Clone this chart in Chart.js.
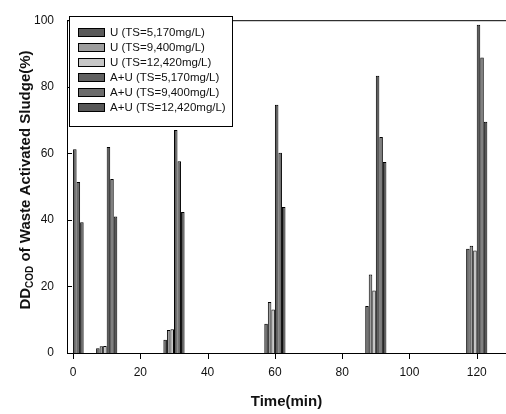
<!DOCTYPE html>
<html>
<head>
<meta charset="utf-8">
<script src="https://cdn.jsdelivr.net/npm/chart.js@4"></script>
<style>
    html, body { margin: 0; padding: 0; background: #fff; }
    #grafico { width: 506px; height: 414px; }
</style>
</head>
<body>
<div id="grafico"><canvas id="tela"></canvas></div>
<script>

// Tempos de medicao (min)
const tempos = [0, 10, 30, 60, 90, 120];

// Valores (%)
const u_5170 = [0, 1.4, 4.0, 8.8, 14.1, 31.3];
const u_9400 = [0, 2.0, 6.9, 15.3, 23.6, 32.2];
const u_12420 = [0, 2.1, 7.1, 13.1, 18.8, 30.8];
const au_5170 = [61.2, 61.9, 67.0, 74.6, 83.3, 98.6];
const au_9400 = [51.4, 52.3, 57.6, 60.2, 64.9, 88.8];
const au_12420 = [39.3, 41.0, 42.4, 43.9, 57.4, 69.5];

const rotulos = [
    'U (TS=5,170mg/L)',
    'U (TS=9,400mg/L)',
    'U (TS=12,420mg/L)',
    'A+U (TS=5,170mg/L)',
    'A+U (TS=9,400mg/L)',
    'A+U (TS=12,420mg/L)'
];
const cores = ['#5a5a5a', '#9e9e9e', '#c6c6c6', '#606060', '#6c6c6c', '#575757'];

const ticks_x = [0, 20, 40, 60, 80, 100, 120];
const ticks_y = [0, 20, 40, 60, 80, 100];

const series = [u_5170, u_9400, u_12420, au_5170, au_9400, au_12420];

const fonte = "'Liberation Sans', Arial, sans-serif";


// Moldura, marcas dos eixos, titulos e legenda desenhados por cima
const plugin_desenho = {
    id: 'desenho',
    afterDraw(chart) {
        const ctx = chart.ctx;
        const area = chart.chartArea;
        const sx = chart.scales.x;
        const sy = chart.scales.y;

        ctx.save();
        ctx.strokeStyle = '#000';
        ctx.lineWidth = 1;

        // moldura (topo, esquerda, base)
        ctx.beginPath();
        ctx.moveTo(area.right, area.top + 0.5);
        ctx.lineTo(area.left + 0.5, area.top + 0.5);
        ctx.lineTo(area.left + 0.5, area.bottom + 0.5);
        ctx.lineTo(area.right, area.bottom + 0.5);
        ctx.stroke();

        // marcas do eixo y (para dentro)
        ctx.beginPath();
        ticks_y.forEach(v => {
            const py = Math.round(sy.getPixelForValue(v)) + 0.5;
            ctx.moveTo(area.left, py);
            ctx.lineTo(area.left + 5, py);
        });
        // marcas do eixo x (para fora)
        ticks_x.forEach(v => {
            const px = Math.round(sx.getPixelForValue(v)) + 0.5;
            ctx.moveTo(px, area.bottom);
            ctx.lineTo(px, area.bottom + 6);
        });
        ctx.stroke();

        // legenda
        const lx = 69, ly = 16, lw = 163, lh = 110;
        ctx.fillStyle = '#fff';
        ctx.fillRect(lx, ly, lw, lh);
        ctx.strokeRect(lx + 0.5, ly + 0.5, lw, lh);
        ctx.font = '11.5px ' + fonte;
        ctx.textBaseline = 'middle';
        ctx.textAlign = 'left';
        chart.data.datasets.forEach((ds, i) => {
            const cy = 32 + i * 15;
            ctx.fillStyle = ds.backgroundColor;
            ctx.fillRect(78, cy - 4, 26, 8);
            ctx.strokeRect(78.5, cy - 3.5, 26, 8);
            ctx.fillStyle = '#111';
            ctx.fillText(ds.label, 110, cy + 1);
        });

        // titulo do eixo x
        ctx.font = 'bold 15px ' + fonte;
        ctx.textAlign = 'center';
        ctx.fillStyle = '#111';
        ctx.fillText('Time(min)', (area.left + area.right) / 2, 402);

        // titulo do eixo y com subscrito
        ctx.translate(26, 180);
        ctx.rotate(-Math.PI / 2);
        const f_normal = 'bold 15px ' + fonte;
        const f_sub = 'bold 10px ' + fonte;
        const partes = [['DD', f_normal, 0], ['COD', f_sub, 4], [' of Waste Activated Sludge(%)', f_normal, 0]];
        let total = 0;
        partes.forEach(p => { ctx.font = p[1]; total += ctx.measureText(p[0]).width; });
        let x = -total / 2;
        ctx.textAlign = 'left';
        partes.forEach(p => {
            ctx.font = p[1];
            ctx.fillText(p[0], x, p[2]);
            x += ctx.measureText(p[0]).width;
        });
        ctx.restore();
    }
};


const conjuntos = series.map((valores, i) => ({
    label: rotulos[i],
    data: valores.map((v, j) => ({ x: tempos[j], y: v })),
    backgroundColor: cores[i],
    borderColor: '#000',
    borderWidth: 1,
    borderSkipped: 'bottom',
    categoryPercentage: 0.63,
    barPercentage: 1.0
}));

new Chart(document.getElementById('tela'), {
    type: 'bar',
    data: { datasets: conjuntos },
    options: {
        responsive: true,
        maintainAspectRatio: false,
        animation: false,
        layout: { padding: { top: 12, right: 0, left: 0, bottom: 0 } },
        plugins: {
            legend: { display: false },
            tooltip: { enabled: false }
        },
        scales: {
            x: {
                type: 'linear',
                min: -1.8,
                max: 128.7,
                offset: false,
                grid: { display: false, drawTicks: false },
                border: { display: false },
                afterBuildTicks: (escala) => { escala.ticks = ticks_x.map(v => ({ value: v })); },
                afterFit: (escala) => { escala.height = 61; },
                ticks: {
                    padding: 12,
                    color: '#111',
                    font: { family: fonte, size: 12 }
                }
            },
            y: {
                min: 0,
                max: 100,
                grid: { display: false, drawTicks: false },
                border: { display: false },
                afterBuildTicks: (escala) => { escala.ticks = ticks_y.map(v => ({ value: v })); },
                afterFit: (escala) => { escala.width = 67; },
                ticks: {
                    padding: 13,
                    color: '#111',
                    font: { family: fonte, size: 12 }
                }
            }
        }
    },
    plugins: [plugin_desenho]
});
</script>
</body>
</html>
